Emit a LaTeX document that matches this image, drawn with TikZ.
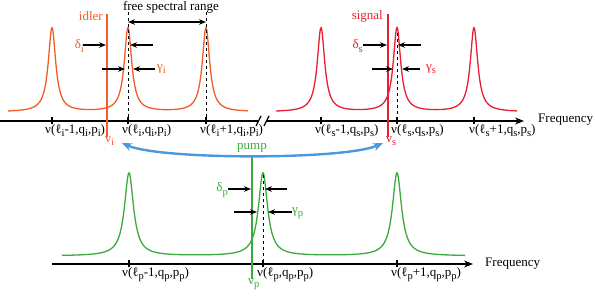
\documentclass[tikz,border=0pt]{standalone}
\usepackage{fontspec}
\setmainfont{Liberation Serif}
\usetikzlibrary{arrows.meta}
\definecolor{idc}{RGB}{242,92,42}
\definecolor{sgc}{RGB}{232,30,50}
\definecolor{pmc}{RGB}{58,170,62}
\definecolor{blc}{RGB}{74,152,222}
\newcommand\lsub[1]{\raisebox{-0.55ex}{\fontsize{10.5}{11}\selectfont #1}}
\begin{document}
\begin{tikzpicture}[x=1pt,y=-1pt,
 lab/.style={font=\fontsize{13}{15}\selectfont, inner sep=0pt},
 curve/.style={line width=1.3pt},
 laser/.style={line width=2pt},
 axisline/.style={line width=1.2pt},
 axisarrow/.style={line width=1.2pt,-{Stealth[length=9pt,width=7pt]}},
 ann/.style={line width=1.1pt,-{Stealth[length=7pt,width=5.5pt]}},
 fsr/.style={line width=1.1pt,{Stealth[length=7pt,width=5.5pt]}-{Stealth[length=7pt,width=5.5pt]}},
 guide/.style={dashed, line width=0.8pt},
 tickmark/.style={line width=2pt}]
\useasboundingbox (0,0) rectangle (595,296);

% ---------------- top axis (idler / signal) ----------------
\coordinate (axL0) at (0,121);
\coordinate (axL1) at (259,121);
\coordinate (axR0) at (266,121);
\coordinate (axR1) at (524,121);
\draw[axisline] (axL0) -- (axL1);
\draw[axisarrow] (axR0) -- (axR1);
\draw[axisline] (256,126) -- (261,116);
\draw[axisline] (264,126) -- (269,116);
\node[lab,anchor=west] (freqT) at (538,120) {Frequency};

% idler resonances
\draw[curve,idc] plot[domain=8:248,samples=600]
 (\x,{112-84*(1/(1+((\x-52)/4.5)^2)+1/(1+((\x-128)/4.5)^2)+1/(1+((\x-206)/4.5)^2))});
% signal resonances
\draw[curve,sgc] plot[domain=276:517,samples=600]
 (\x,{112-84*(1/(1+((\x-321)/4.5)^2)+1/(1+((\x-397)/4.5)^2)+1/(1+((\x-474)/4.5)^2))});

\foreach \t in {52,128,206,321,397,474}{\draw[tickmark] (\t,117.5) -- (\t,124.5);}

\node[lab,anchor=north west] (ti1) at (45,124) {ν(ℓ\lsub{i}-1,q\lsub{i},p\lsub{i})};
\node[lab,anchor=north west] (ti2) at (122,124) {ν(ℓ\lsub{i},q\lsub{i},p\lsub{i})};
\node[lab,anchor=north west] (ti3) at (200,124) {ν(ℓ\lsub{i}+1,q\lsub{i},p\lsub{i})};
\node[lab,anchor=north west] (ts1) at (315,124) {ν(ℓ\lsub{s}-1,q\lsub{s},p\lsub{s})};
\node[lab,anchor=north west] (ts2) at (391,124) {ν(ℓ\lsub{s},q\lsub{s},p\lsub{s})};
\node[lab,anchor=north west] (ts3) at (469,124) {ν(ℓ\lsub{s}+1,q\lsub{s},p\lsub{s})};

% guides and FSR
\coordinate (gA0) at (128,12); \coordinate (gA1) at (128,121);
\coordinate (gB0) at (206,12); \coordinate (gB1) at (206,121);
\draw[guide] (gA0) -- (gA1);
\draw[guide] (gB0) -- (gB1);
\draw[fsr] (128,22) -- (206,22);
\node[lab] (fsrlab) at (171,7) {free spectral range};
\coordinate (gS0) at (397,33); \coordinate (gS1) at (397,121);
\draw[guide] (gS0) -- (gS1);

% idler laser line
\coordinate (id0) at (107,14); \coordinate (id1) at (107,137);
\draw[laser,idc] (id0) -- (id1);
\node[lab,idc,anchor=east] (idlab) at (103,16) {idler};
\node[lab,idc,anchor=north west] (nui) at (105,136) {ν\lsub{i}};
\node[lab,idc,anchor=east] (dilab) at (84,46) {δ\lsub{i}};
\draw[ann] (83,45) -- (106,45);
\draw[ann] (153,45) -- (130,45);
\node[lab,idc,anchor=west] (gilab) at (157,69) {γ\lsub{i}};
\draw[ann] (102,69) -- (125,69);
\draw[ann] (155,69) -- (133,69);

% signal laser line
\coordinate (sg0) at (388,14); \coordinate (sg1) at (388,137);
\draw[laser,sgc] (sg0) -- (sg1);
\node[lab,sgc,anchor=east] (sglab) at (383,16) {signal};
\node[lab,sgc,anchor=north west] (nus) at (386,136) {ν\lsub{s}};
\node[lab,sgc,anchor=east] (dslab) at (363,46) {δ\lsub{s}};
\draw[ann] (363,45) -- (387,45);
\draw[ann] (421,45) -- (398,45);
\node[lab,sgc,anchor=west] (gslab) at (426,69) {γ\lsub{s}};
\draw[ann] (372,69) -- (393,69);
\draw[ann] (420,69) -- (402,69);

% ---------------- bottom axis (pump) ----------------
\coordinate (axB0) at (52,264);
\coordinate (axB1) at (473,264);
\draw[axisarrow] (axB0) -- (axB1);
\node[lab,anchor=west] (freqB) at (485,264) {Frequency};

\draw[curve,pmc] plot[domain=62:465,samples=800]
 (\x,{256-83*(1/(1+((\x-129)/5.5)^2)+1/(1+((\x-263)/5.5)^2)+1/(1+((\x-397)/5.5)^2))});
\foreach \t in {129,263,397}{\draw[tickmark] (\t,260.5) -- (\t,267.5);}

\node[lab,anchor=north west] (tp1) at (122,267) {ν(ℓ\lsub{p}-1,q\lsub{p},p\lsub{p})};
\node[lab,anchor=north west] (tp2) at (257,267) {ν(ℓ\lsub{p},q\lsub{p},p\lsub{p})};
\node[lab,anchor=north west] (tp3) at (391,267) {ν(ℓ\lsub{p}+1,q\lsub{p},p\lsub{p})};

\coordinate (gP0) at (263,175); \coordinate (gP1) at (263,264);
\draw[guide] (gP0) -- (gP1);

\coordinate (pm0) at (252,157); \coordinate (pm1) at (252,279);
\draw[laser,pmc] (pm0) -- (pm1);
\node[lab,pmc] (pmlab) at (252,148) {pump};
\node[lab,pmc,anchor=north west] (nup) at (248,278) {ν\lsub{p}};
\node[lab,pmc,anchor=east] (dplab) at (228,190) {δ\lsub{p}};
\draw[ann] (228,189) -- (251,189);
\draw[ann] (287,189) -- (265,189);
\node[lab,pmc,anchor=west] (gplab) at (292,213) {γ\lsub{p}};
\draw[ann] (234,212) -- (257,212);
\draw[ann] (292,212) -- (268,212);

% ---------------- energy conservation arrow ----------------
\coordinate (bl) at (122,143);
\coordinate (br) at (383,143);
\draw[blc,line width=2.4pt,{Stealth[length=10pt,width=8pt]}-{Stealth[length=10pt,width=8pt]}]
 (bl) .. controls (160,160) and (345,160) .. (br);
\end{tikzpicture}
\end{document}
